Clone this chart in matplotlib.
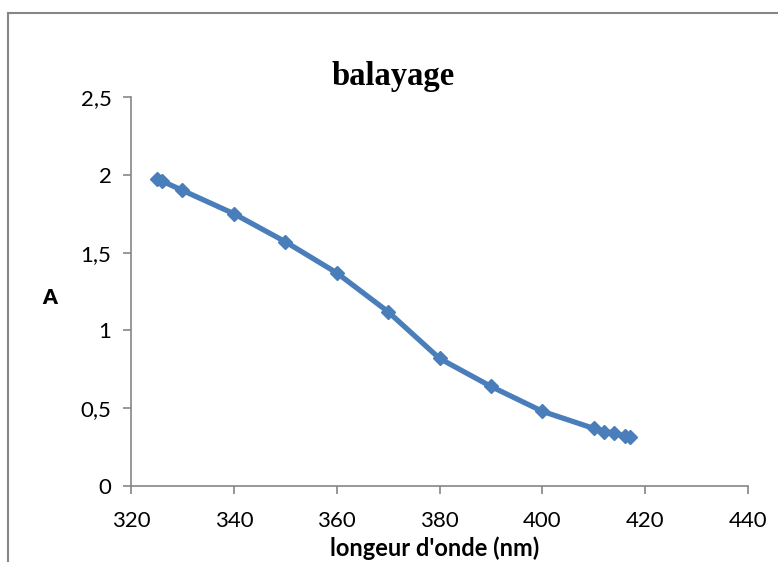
import matplotlib
matplotlib.use("Agg")
import matplotlib.pyplot as plt
from matplotlib.lines import Line2D
from matplotlib.ticker import FuncFormatter

# balayage spectral : absorbance selon la longueur d'onde
longueur_onde = [325, 326, 330, 340, 350, 360, 370, 380, 390, 400, 410, 412, 414, 416, 417]
absorbance = [1.97, 1.96, 1.90, 1.75, 1.57, 1.37, 1.12, 0.82, 0.64, 0.48, 0.37, 0.35, 0.34, 0.32, 0.315]

x_ticks = [320, 340, 360, 380, 400, 420, 440]
y_ticks = [0, 0.5, 1, 1.5, 2, 2.5]

plt.rcParams['font.family'] = ['Lato', 'DejaVu Sans']

fig = plt.figure(figsize=(7.78, 5.62), dpi=100)
ax = fig.add_axes([131 / 778, 1 - 486 / 562, (748 - 131) / 778, (486 - 97) / 562])

bleu = '#4a7ebb'
ax.plot(longueur_onde, absorbance, color=bleu, lw=3.8, marker='D', ms=7.5,
        markerfacecolor=bleu, markeredgecolor=bleu, solid_capstyle='round')

ax.set_xlim(320, 440)
ax.set_ylim(0, 2.5)
ax.set_xticks(x_ticks)
ax.set_yticks(y_ticks)
ax.yaxis.set_major_formatter(FuncFormatter(lambda v, p: ('%g' % v).replace('.', ',')))

gris = '#868686'
for cote in ['top', 'right']:
    ax.spines[cote].set_visible(False)
for cote in ['left', 'bottom']:
    ax.spines[cote].set_color(gris)
    ax.spines[cote].set_linewidth(1.2)
ax.tick_params(direction='out', length=6, width=1.2, color=gris, labelsize=16,
               labelcolor='black')
ax.tick_params(axis='x', pad=12)
ax.tick_params(axis='y', pad=8)

fig.text(393 / 778, 1 - 76 / 562, 'balayage', family='Liberation Serif',
         fontweight='bold', fontsize=23.5, ha='center', va='center')
fig.text(50 / 778, 1 - 298 / 562, 'A', fontweight='heavy', fontsize=15,
         ha='center', va='center')
fig.text(435 / 778, 1 - 548 / 562, "longeur d'onde (nm)", fontweight='bold',
         fontsize=17, ha='center', va='center')

# cadre du graphique
fig.add_artist(Line2D([7.5 / 778, 7.5 / 778], [0, 1 - 12.5 / 562], color=gris, lw=1.5))
fig.add_artist(Line2D([7.5 / 778, 1], [1 - 12.5 / 562, 1 - 12.5 / 562], color=gris, lw=1.5))

fig.savefig('out.png', dpi=100)
